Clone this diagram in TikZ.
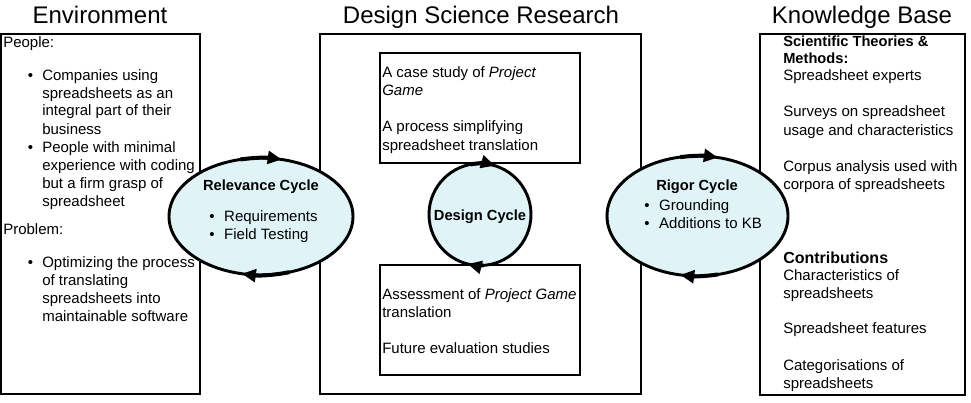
\documentclass[tikz,border=0pt]{standalone}
\usepackage{fontspec}
\setmainfont{Liberation Sans}
\usepackage{tikz}
\usetikzlibrary{shapes.geometric, arrows.meta}
\definecolor{cycfill}{RGB}{224,244,248}
\newcommand{\bodyfont}{\fontsize{11.25}{13.5}\selectfont}
\tikzset{
  box/.style={draw=black, line width=0.8pt},
  ttl/.style={font=\fontsize{18}{21.6}\selectfont, anchor=base, inner sep=0pt},
  txt/.style={font=\bodyfont, align=left, anchor=base west, inner sep=0pt},
  bul/.style={font=\bodyfont, anchor=base west, inner sep=0pt},
  hd/.style={font=\fontsize{11}{12.75}\selectfont\bfseries, align=left, inner sep=0pt},
  cyc/.style={ellipse, draw=black, line width=2.2pt, fill=cycfill, inner sep=0pt},
  carr/.style={-{Triangle[length=10.5pt,width=9.5pt]}, line width=3pt}
}

\begin{document}
\begin{tikzpicture}[x=0.75pt, y=0.75pt]
\useasboundingbox (0,0) rectangle (971,-403);
% ---------- titles ----------
\node[ttl] (tenv) at (100,-23.5) {Environment};
\node[ttl] (tdsr) at (481,-23.5) {Design Science Research};
\node[ttl] (tkb)  at (862,-23.5) {Knowledge Base};
% ---------- frames ----------
\draw[box] (1,-34) rectangle (200,-394);
\draw[box] (320,-34) rectangle (641,-394);
\draw[box] (760,-34) rectangle (965,-395);
\draw[box] (380,-53) rectangle (580,-163);
\draw[box] (380,-265) rectangle (580,-375);
% ---------- environment (multi-line texts sit on their last baseline) ----------
\node[txt] (peo) at (3,-48) {People:};
\node[bul] (b1) at (27.5,-80) {\textbullet};
\node[txt] (comp) at (42,-134) {Companies using\\spreadsheets as an\\integral part of their\\business};
\node[bul] (b2) at (27.5,-152) {\textbullet};
\node[txt] (pers) at (42,-206) {People with minimal\\experience with coding\\but a firm grasp of\\spreadsheet};
\node[txt] (prob) at (3,-234) {Problem:};
\node[bul] (b3) at (27.5,-267) {\textbullet};
\node[txt] (opt) at (42,-321) {Optimizing the process\\of translating\\spreadsheets into\\maintainable software};
% ---------- design science research ----------
\node[txt] (case) at (382,-96) {A case study of \textit{Project}\\\textit{Game}};
\node[txt] (simp) at (382,-150) {A process simplifying\\spreadsheet translation};
\node[txt] (asse) at (382,-317) {Assessment of \textit{Project Game}\\translation};
\node[txt] (fut)  at (382,-353) {Future evaluation studies};
% ---------- knowledge base ----------
\node[hd, anchor=base west] (sci) at (783,-63.5) {Scientific Theories \&\\Methods:};
\node[txt] (expe) at (783,-81) {Spreadsheet experts};
\node[txt] (surv) at (783,-135) {Surveys on spreadsheet\\usage and characteristics};
\node[txt] (corp) at (783,-189) {Corpus analysis used with\\corpora of spreadsheets};
\node[hd, font=\fontsize{12}{14}\selectfont\bfseries, anchor=base west] (contr) at (783,-263.5) {Contributions};
\node[txt] (chara) at (783,-298) {Characteristics of\\spreadsheets};
\node[txt] (feat) at (783,-333) {Spreadsheet features};
\node[txt] (categ) at (783,-388) {Categorisations of\\spreadsheets};
% ---------- cycles ----------
\node[cyc, minimum width=138pt, minimum height=87.75pt] (rel) at (261,-216.5) {};
\node[cyc, minimum width=76.5pt, minimum height=76.5pt] (des) at (480,-214.5) {};
\node[cyc, minimum width=135.75pt, minimum height=90pt] (rig) at (697.5,-216) {};
\node[hd, anchor=base] (relt) at (261,-190) {Relevance Cycle};
\node[txt] (reli) at (209,-239) {\textbullet\hspace{7.3pt}Requirements\\\textbullet\hspace{7.3pt}Field Testing};
\node[hd, anchor=base] (dest) at (480,-220) {Design Cycle};
\node[hd, anchor=base] (rigt) at (697,-190) {Rigor Cycle};
\node[txt] (rigi) at (644,-228) {\textbullet\hspace{7.3pt}Grounding\\\textbullet\hspace{7.3pt}Additions to KB};
% ---------- cycle arrows ----------
\draw[carr] ([shift={(103:69pt and 43.9pt)}]rel.center) arc[start angle=103, end angle=77, x radius=69pt, y radius=43.9pt];
\draw[carr] ([shift={(-72:69pt and 43.9pt)}]rel.center) arc[start angle=-72, end angle=-102, x radius=69pt, y radius=43.9pt];
\draw[carr] ([shift={(101:38.25pt)}]des.center) arc[start angle=101, end angle=73, radius=38.25pt];
\draw[carr] ([shift={(-86:38.25pt)}]des.center) arc[start angle=-86, end angle=-104, radius=38.25pt];
\draw[carr] ([shift={(101:67.9pt and 45pt)}]rig.center) arc[start angle=101, end angle=77, x radius=67.9pt, y radius=45pt];
\draw[carr] ([shift={(-77:67.9pt and 45pt)}]rig.center) arc[start angle=-77, end angle=-101, x radius=67.9pt, y radius=45pt];
\end{tikzpicture}
\end{document}
